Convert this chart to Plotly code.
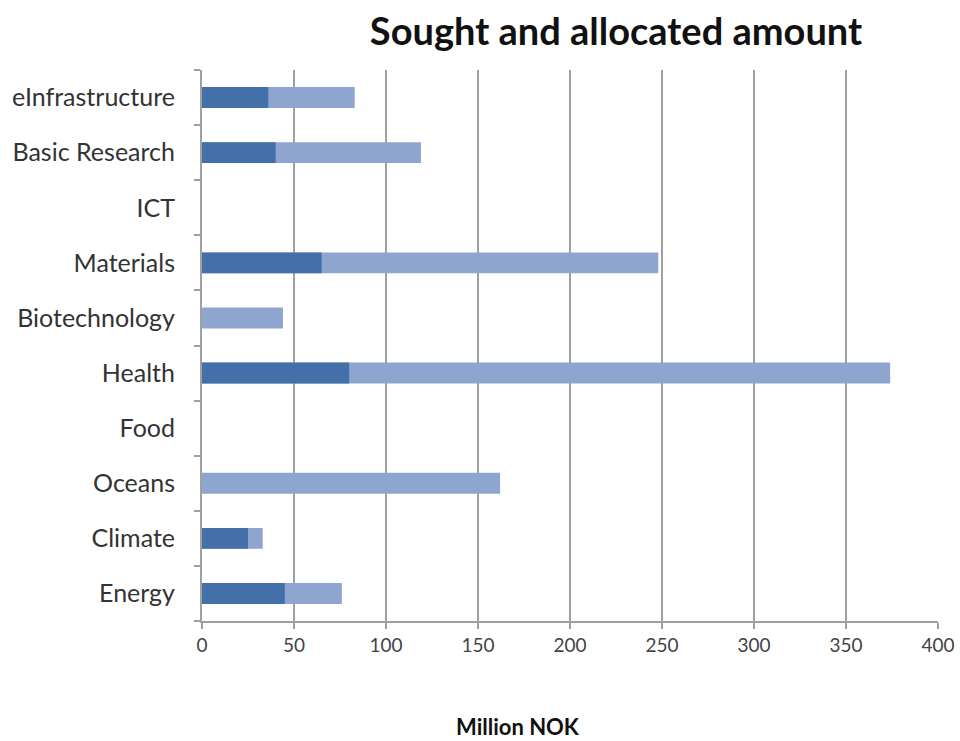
import plotly.graph_objects as go

categories = ["Energy", "Climate", "Oceans", "Food", "Health", "Biotechnology",
              "Materials", "ICT", "Basic Research", "eInfrastructure"]
sought = [76, 33, 162, 0, 374, 44, 248, 0, 119, 83]
allocated = [45, 25, 0, 0, 80, 0, 65, 0, 40, 36]
x_ticks = [0, 50, 100, 150, 200, 250, 300, 350, 400]

FONT = "Lato, 'Open Sans', sans-serif"
GRID = "#a0a0a0"

W, H = 960, 741
L, R, T, B = 202, 22, 70, 120
PW, PH = W - L - R, H - T - B

fig = go.Figure()
fig.add_trace(go.Bar(y=categories, x=sought, orientation="h", name="Sought",
                     marker=dict(color="#8ea5cf", line=dict(width=0)), width=0.38))
fig.add_trace(go.Bar(y=categories, x=allocated, orientation="h", name="Allocated",
                     marker=dict(color="#4470aa", line=dict(width=0)), width=0.38))

fig.update_layout(
    barmode="overlay",
    width=W, height=H,
    margin=dict(l=L, r=R, t=T, b=B, autoexpand=False),
    paper_bgcolor="white", plot_bgcolor="white",
    showlegend=False,
    font=dict(family=FONT, color="#333333"),
    title=dict(text="<b>Sought and allocated amount</b>", x=616 / W, xanchor="center",
               y=1 - 32 / H, yanchor="middle", font=dict(size=38, color="#111111", family=FONT)),
    annotations=[dict(text="<b>Million NOK</b>", xref="paper", yref="paper",
                      x=(518 - L) / PW, y=-(726 - (T + PH)) / PH, xanchor="center", yanchor="middle",
                      showarrow=False, font=dict(size=22, color="#111111", family=FONT))],
)
fig.update_xaxes(range=[0, 400], tickvals=x_ticks, showgrid=True, gridcolor=GRID, gridwidth=2,
                 showline=True, linecolor=GRID, linewidth=2, ticks="outside", ticklen=6,
                 tickcolor=GRID, tickwidth=2, tickfont=dict(size=19, color="#444444"),
                 zeroline=False, automargin=False)
fig.update_yaxes(showline=True, linecolor=GRID, linewidth=2, ticks="outside", ticklen=6,
                 tickcolor=GRID, tickwidth=2, tickson="boundaries", showgrid=False,
                 tickfont=dict(size=25, color="#333333"), ticklabelstandoff=20,
                 range=[-0.5, 9.5], automargin=False)

fig.write_html("out.html", config={"displayModeBar": False},
               post_script="document.body.style.margin='0';document.body.style.overflow='hidden';")
